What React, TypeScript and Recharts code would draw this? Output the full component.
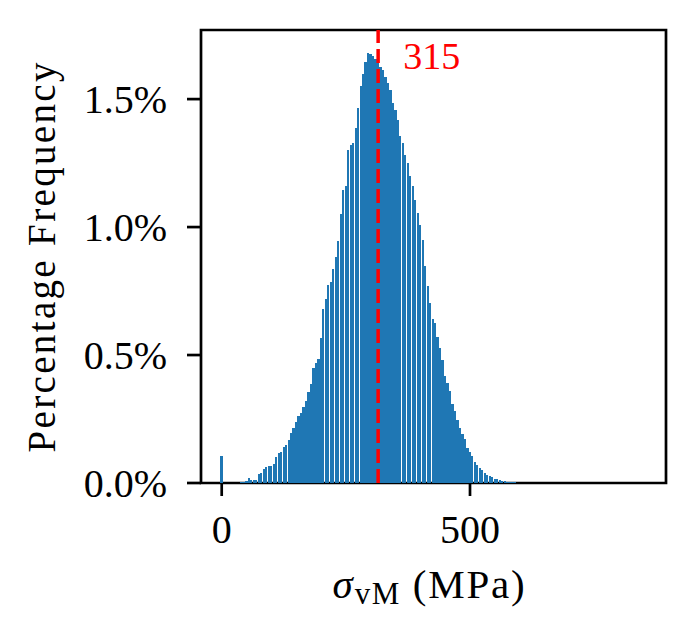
import React from 'react';
import { BarChart, Bar, XAxis, YAxis, ReferenceLine, ReferenceArea } from 'recharts';

// bin centres (MPa)
const BIN_CENTERS = [
  0, 5, 10, 15, 20, 25, 30, 35, 40, 45, 50, 55, 60, 65, 70, 75, 80, 85, 90, 95,
  100, 105, 110, 115, 120, 125, 130, 135, 140, 145, 150, 155, 160, 165, 170, 175, 180, 185, 190, 195,
  200, 205, 210, 215, 220, 225, 230, 235, 240, 245, 250, 255, 260, 265, 270, 275, 280, 285, 290, 295,
  300, 305, 310, 315, 320, 325, 330, 335, 340, 345, 350, 355, 360, 365, 370, 375, 380, 385, 390, 395,
  400, 405, 410, 415, 420, 425, 430, 435, 440, 445, 450, 455, 460, 465, 470, 475, 480, 485, 490, 495,
  500, 505, 510, 515, 520, 525, 530, 535, 540, 545, 550, 555, 560, 565, 570, 575, 580, 585, 590, 595,
  600,
];

// percentage frequency per bin (%)
const PERCENT = [
  0.104, 0, 0, 0, 0, 0, 0, 0, 0.003, 0.004, 0.008, 0.02, 0.01, 0.013, 0.013, 0.035, 0.04, 0.055, 0.062, 0.066,
  0.068, 0.075, 0.1, 0.118, 0.122, 0.142, 0.148, 0.167, 0.195, 0.215, 0.238, 0.26, 0.273, 0.298, 0.32, 0.355, 0.385, 0.45, 0.47, 0.484,
  0.567, 0.68, 0.72, 0.775, 0.787, 0.835, 0.885, 0.944, 1.05, 1.146, 1.16, 1.302, 1.321, 1.33, 1.387, 1.465, 1.55, 1.6, 1.645, 1.68,
  1.677, 1.67, 1.655, 1.653, 1.627, 1.614, 1.588, 1.5625, 1.536, 1.484, 1.458, 1.419, 1.354, 1.329, 1.282, 1.25, 1.198, 1.159, 1.107, 1.055,
  1.009, 0.95, 0.846, 0.768, 0.703, 0.64, 0.625, 0.57, 0.527, 0.48, 0.42, 0.39, 0.358, 0.31, 0.28, 0.245, 0.215, 0.19, 0.17, 0.135,
  0.12, 0.104, 0.084, 0.071, 0.059, 0.049, 0.038, 0.033, 0.028, 0.022, 0.017, 0.014, 0.01, 0.008, 0.006, 0.005, 0.004, 0.003, 0.002, 0.001,
  0.001,
];

const X_TICKS = [0, 500];
const Y_TICKS = [0, 0.5, 1.0, 1.5];
const MEDIAN = 315;
const MEDIAN_LABEL = '315';

const X_DOMAIN: [number, number] = [-41.7, 894.7];
const Y_DOMAIN: [number, number] = [0, 1.77];

const W = 695;
const H = 637;
const MARGIN = { top: 30, right: 29, bottom: 0, left: 0 };
const Y_AXIS_W = 201;
const X_AXIS_H = 154;
const BIN_W = 5;
const FONT = '"Liberation Serif", "Times New Roman", serif';
const BLUE = '#1f77b4';

const data = BIN_CENTERS.map((x, i) => ({ x, pct: PERCENT[i] }));
const plotW = W - MARGIN.left - MARGIN.right - Y_AXIS_W;
const pitch = (BIN_W * plotW) / (X_DOMAIN[1] - X_DOMAIN[0]);

const BarShape = (p: any) =>
  p.height > 0 ? (
    <rect x={p.x} y={p.y} width={p.width} height={p.height} fill={BLUE} shapeRendering="crispEdges" />
  ) : null;

const XLabel = (props: any) => {
  const vb = props.viewBox || { x: 201, y: 483, width: 465, height: 154 };
  return (
    <text
      x={vb.x + vb.width / 2 - 4}
      y={vb.y + 115}
      textAnchor="middle"
      fontFamily={FONT}
      fontSize={41}
      fill="#000"
    >
      <tspan fontStyle="italic">σ</tspan>
      <tspan fontSize={31} dx={2} dy={6} letterSpacing={1.5}>vM</tspan>
      <tspan dx={12} dy={-6} letterSpacing={1.8}>(MPa)</tspan>
    </text>
  );
};

const YLabel = (props: any) => {
  const vb = props.viewBox || { x: 0, y: 30, width: 201, height: 453 };
  const cx = vb.x + 55;
  const cy = vb.y + vb.height / 2 + 1;
  return (
    <text
      x={cx}
      y={cy}
      transform={`rotate(-90 ${cx} ${cy})`}
      textAnchor="middle"
      fontFamily={FONT}
      fontSize={39}
      fill="#000"
      textLength={390}
      lengthAdjust="spacing"
    >
      Percentage Frequency
    </text>
  );
};

const MedianLabel = (props: any) => {
  const vb = props.viewBox || { x: 378, y: 30 };
  return (
    <text x={vb.x + 25} y={(vb.y ?? 30) + 39} fontFamily={FONT} fontSize={38} fill="#ff0000">
      {MEDIAN_LABEL}
    </text>
  );
};

export default function App() {
  return (
    <div style={{ position: 'absolute', left: 0, top: 0, width: W, height: H, background: '#fff' }}>
      <BarChart width={W} height={H} data={data} margin={MARGIN} barCategoryGap={0} barGap={0}>
        <XAxis
          dataKey="x"
          type="number"
          domain={X_DOMAIN}
          ticks={X_TICKS}
          allowDataOverflow
          height={X_AXIS_H}
          axisLine={false}
          tickSize={13}
          tickMargin={19}
          tickLine={{ stroke: '#000', strokeWidth: 2.7 }}
          tick={{ fill: '#000', fontSize: 40, fontFamily: FONT }}
          interval={0}
          label={<XLabel />}
        />
        <YAxis
          type="number"
          domain={Y_DOMAIN}
          ticks={Y_TICKS}
          allowDataOverflow
          width={Y_AXIS_W}
          axisLine={false}
          tickSize={14}
          tickMargin={20}
          tickLine={{ stroke: '#000', strokeWidth: 2.7 }}
          tick={{ fill: '#000', fontSize: 40, fontFamily: FONT }}
          tickFormatter={(v: number) => `${v.toFixed(1)}%`}
          interval={0}
          label={<YLabel />}
        />
        <Bar
          dataKey="pct"
          fill={BLUE}
          barSize={pitch - 0.25}
          shape={BarShape}
          isAnimationActive={false}
        />
        <ReferenceLine
          x={MEDIAN}
          stroke="#ff0000"
          strokeWidth={3.5}
          strokeDasharray="14 6"
          label={<MedianLabel />}
        />
        <ReferenceArea
          x1={X_DOMAIN[0]}
          x2={X_DOMAIN[1]}
          y1={Y_DOMAIN[0]}
          y2={Y_DOMAIN[1]}
          fill="none"
          fillOpacity={0}
          stroke="#000"
          strokeWidth={2.7}
          ifOverflow="visible"
        />
      </BarChart>
    </div>
  );
}
